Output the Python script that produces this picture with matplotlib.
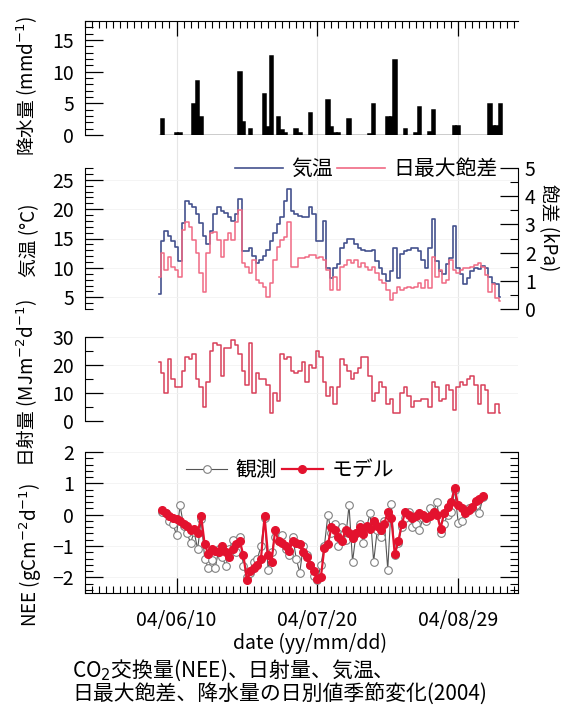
import matplotlib.pyplot as plt
import matplotlib.dates as mdates
from matplotlib.lines import Line2D
from matplotlib.ticker import MultipleLocator, FixedLocator
import numpy as np
import pandas as pd

plt.rcParams['font.family'] = ['Noto Sans CJK JP', 'DejaVu Sans']
plt.rcParams['font.size'] = 14

# ---- データ ----
x_start, x_end = '2004-05-15', '2004-09-15'
major_dates = ['2004-06-10', '2004-07-20', '2004-08-29']

met_start = '2004-06-05'   # 気温・飽差・日射量の初日
nee_start = '2004-06-06'   # NEE の初日

# 降水量 (mm/d)
rain_dates = ['2004-06-06', '2004-06-10', '2004-06-11', '2004-06-15', '2004-06-16',
              '2004-06-17', '2004-06-28', '2004-06-29', '2004-07-01', '2004-07-05',
              '2004-07-06', '2004-07-07', '2004-07-09', '2004-07-10', '2004-07-11',
              '2004-07-14', '2004-07-15', '2004-07-18', '2004-07-23', '2004-07-24',
              '2004-07-25', '2004-07-26', '2004-07-29', '2004-08-04', '2004-08-05',
              '2004-08-09', '2004-08-10', '2004-08-11', '2004-08-14', '2004-08-17',
              '2004-08-18', '2004-08-21', '2004-08-22', '2004-08-28', '2004-08-29',
              '2004-09-07', '2004-09-08', '2004-09-09', '2004-09-10']
rain_mm = [2.5, 0.3, 0.3, 4.9, 8.5,
           2.9, 10.0, 2.0, 1.0, 6.4,
           1.2, 12.4, 2.9, 0.8, 0.3,
           1.0, 0.3, 3.5, 5.5, 1.3,
           0.3, 0.3, 2.5, 0.2, 4.9,
           2.9, 2.9, 11.9, 0.9, 0.3,
           4.4, 0.5, 3.9, 1.4, 1.4,
           4.9, 1.4, 1.4, 4.9]

# 気温 (C)
temp = [5.5, 14.6, 16.3, 15.4, 14.6, 13.5, 11.2, 17.7, 21.4, 20.8,
        20.3, 19.1, 17.7, 15.4, 14.0, 16.3, 19.1, 20.3, 19.7, 19.4,
        18.6, 18.0, 19.1, 21.7, 12.9, 12.9, 13.4, 12.0, 10.9, 11.4,
        12.0, 13.1, 14.6, 16.0, 17.4, 18.6, 21.4, 23.4, 19.7, 19.1,
        18.8, 18.6, 18.6, 20.3, 19.1, 14.6, 14.6, 18.0, 10.0, 8.3,
        10.0, 10.6, 13.4, 14.3, 14.9, 14.9, 14.0, 13.4, 13.1, 12.9,
        12.9, 13.1, 11.2, 10.0, 8.9, 7.7, 9.4, 13.4, 8.3, 12.3,
        12.9, 13.1, 13.4, 13.4, 12.9, 11.4, 10.0, 13.4, 18.3, 11.2,
        9.4, 8.9, 10.6, 11.7, 17.1, 10.0, 8.9, 7.2, 8.3, 9.5,
        10.0, 9.8, 10.3, 10.0, 8.5, 7.5, 7.2, 5.0]

# 日最大飽差 (kPa)
vpd = [1.15, 1.97, 1.38, 1.85, 1.5, 1.38, 1.15, 2.8, 3.1, 2.92,
       2.45, 1.97, 1.27, 0.61, 1.97, 2.68, 2.74, 2.45, 1.85, 2.45,
       2.68, 2.45, 3.1, 3.5, 1.62, 1.5, 1.27, 1.74, 1.03, 0.91,
       0.79, 0.44, 0.91, 1.74, 2.21, 2.45, 2.57, 3.1, 1.5, 1.5,
       1.8, 1.8, 1.85, 1.9, 1.9, 1.8, 1.85, 1.74, 1.38, 0.67,
       1.15, 0.67, 1.5, 1.56, 1.74, 1.62, 1.74, 1.5, 1.62, 1.5,
       1.38, 1.5, 1.27, 1.03, 0.91, 0.67, 0.32, 0.56, 0.79, 0.67,
       0.73, 0.79, 0.73, 0.79, 0.91, 0.73, 1.03, 0.73, 1.85, 1.15,
       1.38, 0.91, 1.03, 1.74, 1.38, 1.27, 1.38, 1.44, 1.44, 1.5,
       1.56, 1.62, 1.5, 1.2, 0.6, 0.9, 0.4, 0.3]

# 日射量 (MJ/m2/d)
rad = [21, 17, 10, 22, 15, 12, 12, 18, 23, 22,
       24, 15, 12, 5, 14, 25, 28, 27, 16, 26,
       26, 29, 27, 24, 18, 13, 28, 10, 17, 15,
       15, 13, 3, 10, 7, 24, 22, 23, 18, 17,
       18, 21, 14, 20, 19, 25, 23, 14, 9, 12,
       6, 12, 22, 20, 18, 15, 17, 19, 23, 23,
       16, 7, 10, 14, 12, 6, 8, 3, 3, 10,
       12, 9, 5, 7, 7, 8, 8, 5, 14, 12,
       7, 8, 13, 11, 4, 12, 14, 13, 15, 16,
       13, 6, 13, 11, 3, 3, 6, 3]

# NEE (gC/m2/d)
nee_obs = [0.1, 0.05, -0.2, -0.3, -0.65, 0.3, -0.35, -0.6, -0.9, -0.55,
           -1.1, -0.15, -1.4, -1.7, -1.45, -1.7, -1.1, -1.35, -1.65, -1.1,
           -0.8, -1.2, -0.7, -1.65, -2.0, -1.85, -1.5, -1.4, -1.0, -0.1,
           -1.75, -1.2, -0.7, -0.85, -0.65, -1.1, -1.3, -0.7, -1.4, -1.85,
           -1.0, -1.3, -1.6, -1.95, -2.1, -1.6, -1.0, 0.0, -0.6, -0.3,
           -1.0, -0.4, -0.8, 0.3, -1.5, -0.6, -0.3, -0.9, -0.4, 0.05,
           -1.5, -0.5, -0.7, -0.2, -1.75, 0.35, -1.3, -0.9, -0.4, -0.1,
           0.1, -0.4, -0.3, -0.5, -0.1, -0.2, 0.2, 0.1, 0.4, -0.6,
           -0.3, 0.0, 0.1, 0.8, -0.25, -0.2, 0.1, 0.2, 0.2, 0.3,
           0.05, 0.55]
nee_model = [0.15, 0.05, -0.05, -0.1, -0.15, -0.2, -0.3, -0.35, -0.5, -0.45,
             -0.6, -0.05, -0.95, -1.25, -1.1, -1.15, -1.2, -1.0, -1.2, -1.35,
             -1.1, -0.95, -0.85, -1.3, -2.1, -1.8, -1.7, -1.6, -1.4, -0.05,
             -1.3, -1.5, -0.5, -0.85, -0.9, -1.0, -1.15, -0.85, -0.9, -0.95,
             -1.2, -1.35, -1.6, -1.8, -2.05, -2.0, -1.05, -0.95, -0.4, -0.5,
             -0.7, -0.85, -0.5, -0.6, -0.75, -0.6, -0.4, -0.63, -0.37, -0.45,
             -0.2, -0.35, -0.5, -0.3, 0.1, -0.1, -1.25, -0.85, -0.3, 0.1,
             0.0, -0.1, -0.05, 0.05, 0.0, -0.1, -0.05, 0.1, 0.0, -0.45,
             0.05, 0.25, 0.4, 0.85, 0.3, 0.2, 0.05, 0.15, 0.25, 0.45,
             0.5, 0.6]

# ---- レイアウト (ピクセル) ----
W, H = 564, 720
L, R = 85, 518


def panel(top, bottom):
    """上端・下端のピクセル位置から軸を作る"""
    return fig.add_axes([L / W, 1 - bottom / H, (R - L) / W, (bottom - top) / H])


def style_panel(ax, right=False):
    ax.set_facecolor('none')
    ax.xaxis.set_visible(False)
    for s in ['top', 'bottom']:
        ax.spines[s].set_visible(False)
    ax.spines['right'].set_visible(right)
    ax.tick_params(axis='y', which='both', direction='in', right=right, pad=8)
    ax.tick_params(axis='y', which='major', length=13, width=0.9)
    ax.tick_params(axis='y', which='minor', length=6, width=0.8)
    ax.set_xlim(xmin, xmax)


def set_ylabel_px(ax, text, x_px, y_px, **kw):
    ax.set_ylabel(text, fontsize=13.5, **kw)
    ax.yaxis.set_label_coords(x_px / W, 1 - y_px / H, transform=fig.transFigure)


fig = plt.figure(figsize=(W / 100, H / 100), dpi=100)

xmin = mdates.date2num(pd.Timestamp(x_start))
xmax = mdates.date2num(pd.Timestamp(x_end))
met_days = pd.date_range(met_start, periods=len(temp), freq='D')
nee_days = pd.date_range(nee_start, periods=len(nee_obs), freq='D')

# 背景: 共通の日付軸と縦グリッド
ax0 = panel(21, 593)
ax0.set_zorder(0)
ax0.set_xlim(xmin, xmax)
ax0.set_yticks([])
ax0.spines['left'].set_visible(False)
ax0.spines['right'].set_visible(False)
ax0.xaxis.set_major_locator(FixedLocator(mdates.date2num(pd.to_datetime(major_dates))))
ax0.xaxis.set_minor_locator(FixedLocator(np.arange(xmin, xmax + 0.5, 2)))
ax0.xaxis.set_major_formatter(mdates.DateFormatter('%y/%m/%d'))
ax0.tick_params(axis='x', which='both', direction='in', top=True, bottom=True, pad=12)
ax0.tick_params(axis='x', which='major', length=11, width=0.9)
ax0.tick_params(axis='x', which='minor', length=5, width=0.8)
ax0.grid(axis='x', color='#e6e6e6', lw=0.8)
ax0.set_xlabel('date (yy/mm/dd)')
ax0.xaxis.set_label_coords(310 / W, 1 - 633 / H, transform=fig.transFigure)

# 降水量
ax1 = panel(21, 135)
style_panel(ax1)
ax1.bar(pd.to_datetime(rain_dates), rain_mm, width=1.0, color='black',
        edgecolor='black', lw=1.1)
ax1.plot([met_days[0], met_days[-1]], [0, 0], color='black', lw=1.0)
ax1.set_ylim(0, 18)
ax1.yaxis.set_major_locator(MultipleLocator(5))
ax1.yaxis.set_minor_locator(MultipleLocator(1))
set_ylabel_px(ax1, '降水量 (mmd$^{-1}$)', 40, 86)

# 気温と日最大飽差
ax2 = panel(168, 309)
style_panel(ax2)
ax2.step(met_days, temp, where='mid', color='#44528e', lw=1.2)
ax2.set_ylim(3, 27)
ax2.set_yticks([5, 10, 15, 20, 25])
ax2.yaxis.set_minor_locator(MultipleLocator(1))
ax2.grid(axis='y', color='#f2f2f2', lw=0.6)
set_ylabel_px(ax2, '気温 (°C)', 40, 240)

ax2r = ax2.twinx()
style_panel(ax2r, right=True)
ax2r.spines['left'].set_visible(False)
ax2r.tick_params(axis='y', which='both', left=False)
ax2r.step(met_days, vpd, where='mid', color='#f06a84', lw=1.1)
ax2r.set_ylim(0, 5)
ax2r.yaxis.set_major_locator(MultipleLocator(1))
ax2r.yaxis.set_minor_locator(MultipleLocator(0.5))
ax2r.tick_params(axis='y', pad=5)
set_ylabel_px(ax2r, '飽差 (kPa)', 538, 228, rotation=270, va='bottom')

leg_handles = [Line2D([], [], color='#44528e', lw=1.2),
               Line2D([], [], color='#f06a84', lw=1.2)]
fig.legend(leg_handles, ['気温', '日最大飽差'], loc='center',
           bbox_to_anchor=(366 / W, 1 - 169 / H), ncol=2, frameon=False,
           handlelength=2.3, handletextpad=0.4, columnspacing=0.2, fontsize=15,
           borderaxespad=0, borderpad=0)

# 日射量
ax3 = panel(337, 421)
style_panel(ax3)
ax3.step(met_days, rad, where='mid', color='#d8405a', lw=1.1)
ax3.set_ylim(0, 30)
ax3.yaxis.set_major_locator(MultipleLocator(10))
ax3.yaxis.set_minor_locator(MultipleLocator(5))
ax3.grid(axis='y', color='#f2f2f2', lw=0.6)
set_ylabel_px(ax3, '日射量 (MJm$^{-2}$d$^{-1}$)', 40, 383)

# NEE
ax4 = panel(452, 593)
style_panel(ax4, right=True)
ax4.plot(nee_days, nee_obs, color='#555555', lw=0.8, marker='o', ms=5.5,
         mfc='white', mec='#808080', mew=0.8, label='観測')
ax4.plot(nee_days, nee_model, color='#e3122e', lw=1.6, marker='o', ms=5.5,
         mfc='#e3122e', mec='#e3122e', label='モデル')
ax4.set_ylim(-2.5, 2)
ax4.set_yticks([-2, -1, 0, 1, 2])
ax4.yaxis.set_minor_locator(MultipleLocator(0.2))
ax4.grid(axis='y', color='#f2f2f2', lw=0.6)
set_ylabel_px(ax4, 'NEE (gCm$^{-2}$d$^{-1}$)', 44, 555)
ax4.legend(loc='center', bbox_to_anchor=(290 / W, 1 - 470 / H),
           bbox_transform=fig.transFigure, ncol=2, frameon=False, numpoints=1,
           handlelength=2.0, handletextpad=0.4, columnspacing=0.2, fontsize=15,
           borderaxespad=0, borderpad=0)

# 図のキャプション (2行)
fig.text(72 / W, 1 - 682 / H,
         'CO$_2$交換量(NEE)、日射量、気温、\n日最大飽差、降水量の日別値季節変化(2004)',
         va='center', ha='left', fontsize=15, linespacing=1.05)

fig.savefig('out.png', dpi=100)
